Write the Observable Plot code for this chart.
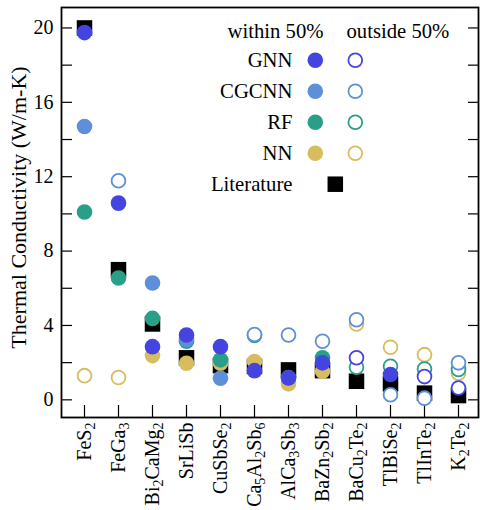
<!DOCTYPE html>
<html>
<head>
<meta charset="utf-8">
<script src="https://cdn.jsdelivr.net/npm/d3@7"></script>
<script src="https://cdn.jsdelivr.net/npm/@observablehq/plot@0.6"></script>
<style>
  body { margin: 0; background: #fff; }
  #chart svg { display: block; }
</style>
</head>
<body>
<div id="chart"></div>
<script>
// ---- data ----
const categories = ["FeS2","FeGa3","Bi2CaMg2","SrLiSb","CuSbSe2","Ca5Al2Sb6","AlCa3Sb3","BaZn2Sb2","BaCu2Te2","TlBiSe2","TlInTe2","K2Te2"];
const literature = [20.0, 7.0, 4.08, 2.26, 1.84, 1.80, 1.61, 1.57, 1.00, 0.86, 0.36, 0.23];
const models = ["GNN","CGCNN","RF","NN"];
const modelColors = ["#4444E0","#5E90D9","#2A9F88","#D7BD5E"];
const gnnValues    = [19.75, 10.58, 2.86, 3.49, 2.86, 1.57, 1.18, 1.99, 2.26, 1.36, 1.25, 0.64];
const gnnWithin    = [1,1,1,1,1,1,1,1,0,1,0,0];
const cgcnnValues  = [14.7, 11.78, 6.28, 3.24, 1.16, 3.51, 3.49, 3.15, 4.31, 0.27, 0.09, 1.99];
const cgcnnWithin  = [1,0,1,1,1,0,0,0,0,0,0,0];
const rfValues     = [10.1, 6.55, 4.38, 3.15, 2.15, 3.46, 1.20, 2.26, 1.75, 1.81, 1.66, 1.63];
const rfWithin     = [1,1,1,1,1,0,1,1,0,0,0,0];
const nnValues     = [1.3, 1.2, 2.38, 1.97, 1.97, 2.06, 0.86, 1.54, 4.08, 2.83, 2.43, 1.43];
const nnWithin     = [0,0,1,1,1,1,1,1,0,0,0,0];
const yMajorTicks = [0, 4, 8, 12, 16, 20];
const yMinorTicks = [0, 2, 4, 6, 8, 10, 12, 14, 16, 18, 20];
const yLabel = "Thermal Conductivity (W/m-K)";
const legendHeaders = ["within 50%", "outside 50%"];
const literatureLabel = "Literature";

// ---- build tables ----
const seriesValues = {GNN: gnnValues, CGCNN: cgcnnValues, RF: rfValues, NN: nnValues};
const seriesWithin = {GNN: gnnWithin, CGCNN: cgcnnWithin, RF: rfWithin, NN: nnWithin};
const litRows = categories.map((c, i) => ({cat: c, value: literature[i]}));
const drawOrder = ["NN", "RF", "CGCNN", "GNN"];

const FONT = "'Liberation Serif', 'DejaVu Serif', serif";
const R_FILLED = 7.8, R_OPEN = 6.9, SQ_R = 8.75;

const dotMarks = [];
for (const m of drawOrder) {
  const color = modelColors[models.indexOf(m)];
  const rows = categories.map((c, i) => ({cat: c, value: seriesValues[m][i], within: seriesWithin[m][i]}));
  dotMarks.push(Plot.dot(rows.filter(d => d.within), {x: "cat", y: "value", r: R_FILLED, fill: color, stroke: "none"}));
  dotMarks.push(Plot.dot(rows.filter(d => !d.within), {x: "cat", y: "value", r: R_OPEN, fill: "white", stroke: color, strokeWidth: 1.8}));
}

const chart = Plot.plot({
  width: 480,
  height: 510,
  marginTop: 7,
  marginBottom: 93,
  marginLeft: 61,
  marginRight: 2,
  style: {fontFamily: FONT, fontSize: "20px", background: "white", color: "black"},
  x: {type: "point", domain: categories, padding: 0.515, align: 0.53, label: null},
  y: {domain: [-0.95, 21.1], label: null},
  marks: [
    Plot.axisY({ticks: yMinorTicks, tickSize: -11, tickFormat: () => "", label: null, strokeWidth: 1.2}),
    Plot.axisY({anchor: "right", ticks: yMinorTicks, tickSize: -11, tickFormat: () => "", label: null, strokeWidth: 1.2}),
    Plot.axisY({ticks: yMajorTicks, tickSize: 0, tickPadding: 8, fontSize: 20, label: null}),
    Plot.axisX({tickSize: -12, tickFormat: () => "", label: null, strokeWidth: 1.2}),
    Plot.axisX({tickSize: 0, tickRotate: -90, tickPadding: 5, fontSize: 20, label: null}),
    Plot.text([yLabel], {text: d => d, frameAnchor: "left", rotate: -90, dx: -43, dy: -5, fontSize: 22, textAnchor: "middle", lineAnchor: "middle"}),
    Plot.dot(litRows, {x: "cat", y: "value", symbol: "square", r: SQ_R, fill: "black"}),
    ...dotMarks,
    Plot.frame({stroke: "black", strokeWidth: 1.8})
  ]
});

document.getElementById("chart").appendChild(chart);

// ---- subscripts in x tick labels ----
d3.select(chart).selectAll('g[aria-label="x-axis tick label"] text').each(function() {
  const t = d3.select(this);
  const s = t.text();
  t.text(null);
  const parts = s.match(/(\d+|\D+)/g) || [];
  for (const p of parts) {
    const ts = t.append("tspan").text(p);
    if (/^\d+$/.test(p)) ts.attr("font-size", "70%").attr("baseline-shift", "-4px");
  }
});

// ---- legend (inside the plot) ----
const lg = d3.select(chart).append("g").attr("font-family", FONT).attr("font-size", 20.7).attr("fill", "black");
const colFilled = 315.3, colOpen = 355.3, labelRight = 292.5, headerY = 31, rowY0 = 60.2, rowStep = 31.0;
lg.append("text").attr("x", 323.5).attr("y", headerY).attr("dy", "0.33em").attr("text-anchor", "end").text(legendHeaders[0]);
lg.append("text").attr("x", 346.5).attr("y", headerY).attr("dy", "0.33em").attr("text-anchor", "start").text(legendHeaders[1]);
models.forEach((m, i) => {
  const y = rowY0 + i * rowStep;
  lg.append("text").attr("x", labelRight).attr("y", y).attr("dy", "0.33em").attr("text-anchor", "end").text(m);
  lg.append("circle").attr("cx", colFilled).attr("cy", y).attr("r", R_FILLED).attr("fill", modelColors[i]);
  lg.append("circle").attr("cx", colOpen).attr("cy", y).attr("r", R_OPEN).attr("fill", "white").attr("stroke", modelColors[i]).attr("stroke-width", 1.8);
});
{
  const y = rowY0 + 4 * rowStep;
  lg.append("text").attr("x", labelRight).attr("y", y).attr("dy", "0.33em").attr("text-anchor", "end").text(literatureLabel);
  const side = SQ_R * Math.sqrt(Math.PI);
  lg.append("rect").attr("x", 335.3 - side / 2).attr("y", y - side / 2).attr("width", side).attr("height", side).attr("fill", "black");
}
</script>
</body>
</html>
